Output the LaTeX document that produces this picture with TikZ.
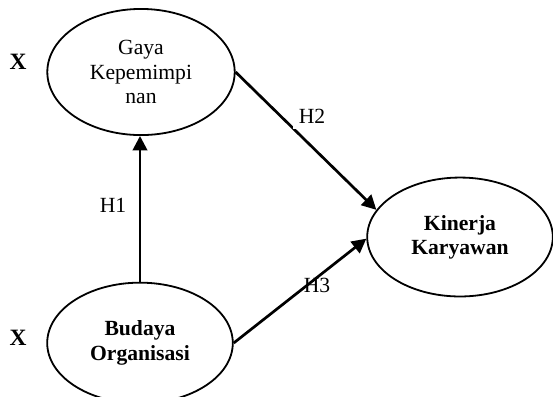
\documentclass[tikz,border=0pt]{standalone}
\usepackage{fontspec}
\setmainfont{Liberation Serif}
\usetikzlibrary{shapes.geometric,arrows.meta}

\begin{document}
\begin{tikzpicture}[x=0.555pt,y=-0.555pt,
  var/.style={draw,ellipse,line width=1pt,inner sep=0pt,align=center,font=\fontsize{12}{13.5}\selectfont},
  hyp/.style={line width=1.5pt,-{Triangle[length=8pt,width=8pt]}},
  lbl/.style={font=\fontsize{12}{13.5}\selectfont,inner sep=3pt}]
\useasboundingbox (0,0) rectangle (553,396);
\node[var,minimum width=104pt,minimum height=70pt] (gaya) at (141,72) {Gaya\\Kepemimpi\\nan};
\node[var,minimum width=103pt,minimum height=67pt,font=\fontsize{12}{13.5}\selectfont\bfseries] (bud) at (140,343) {Budaya\\Organisasi};
\node[var,minimum width=103pt,minimum height=66pt,font=\fontsize{12}{13.5}\selectfont\bfseries] (kin) at (460,237) {Kinerja\\Karyawan};
\node[lbl,font=\fontsize{13}{14}\selectfont\bfseries] (x1) at (18,62) {X};
\node[lbl,font=\fontsize{13}{14}\selectfont\bfseries] (x2) at (18,338) {X};
\draw[hyp] (bud.north) -- (bud.north |- gaya.south);
\draw[hyp] (gaya.east) -- (kin.162);
\draw[hyp] (bud.east) -- (kin.181);
% hypothesis labels
\node[lbl] (h1) at (113,205) {H1};
\node[lbl,fill=white] (h2) at (312,116) {H2};
\node[lbl] (h3) at (317,285) {H3};
\end{tikzpicture}
\end{document}
